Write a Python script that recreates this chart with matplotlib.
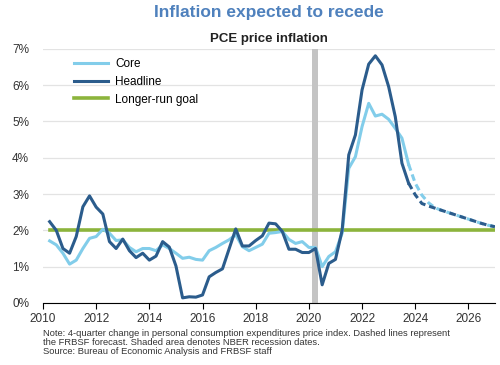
import matplotlib.pyplot as plt
import numpy as np

plt.rcParams['font.family'] = ['Liberation Sans', 'DejaVu Sans']

# quarterly history, plotted from 2010.25 to 2023.75
hist_start = 2010.25
core = [1.71, 1.60, 1.37, 1.07, 1.18, 1.50, 1.78, 1.83, 2.03, 1.92, 1.72, 1.74,
        1.53, 1.41, 1.50, 1.50, 1.44, 1.60, 1.50, 1.37, 1.23, 1.26, 1.20, 1.18,
        1.44, 1.53, 1.64, 1.74, 1.88, 1.55, 1.44, 1.53, 1.62, 1.92,
        1.94, 1.97, 1.75, 1.64, 1.69, 1.53, 1.53, 1.00, 1.28, 1.41, 1.92,
        3.71, 4.03, 4.86, 5.50, 5.15, 5.20, 5.06, 4.81, 4.54, 3.82]
headline = [2.24, 2.00, 1.50, 1.37, 1.83, 2.65, 2.95, 2.64, 2.45, 1.69, 1.50, 1.76,
            1.44, 1.25, 1.37, 1.18, 1.29, 1.69, 1.54, 1.02, 0.14, 0.17, 0.16, 0.22,
            0.72, 0.84, 0.94, 1.49, 2.04, 1.57, 1.57, 1.72, 1.85, 2.20,
            2.18, 1.97, 1.48, 1.48, 1.39, 1.39, 1.50, 0.50, 1.09, 1.20, 2.00,
            4.08, 4.63, 5.87, 6.58, 6.81, 6.56, 5.96, 5.13, 3.85, 3.30]

# FRBSF forecast, 2024Q1 .. 2026Q4
fc_start = 2024.0
core_fc = [3.30, 2.97, 2.76, 2.62, 2.55, 2.49, 2.43, 2.37, 2.31, 2.25, 2.19, 2.14, 2.10]
headline_fc = [2.98, 2.74, 2.67, 2.61, 2.55, 2.49, 2.43, 2.37, 2.31, 2.25, 2.19, 2.14, 2.10]

goal = 2.0
recession = (2020.13, 2020.33)

c_core = '#82cdea'
c_head = '#2b5c8c'
c_goal = '#8cb43c'

t_hist = hist_start + 0.25 * np.arange(len(core))
t_fc = fc_start + 0.25 * np.arange(len(core_fc))

fig = plt.figure(figsize=(5, 3.65), dpi=100)
ax = fig.add_axes([0.086, 0.170, 0.904, 0.696])

ax.axvspan(*recession, color='#c4c4c4', zorder=1, lw=0)
ax.plot([t_hist[0], 2027], [goal, goal], color=c_goal, lw=2.6, zorder=2, label='Longer-run goal')

ax.plot(t_hist, core, color=c_core, lw=2.2, zorder=3, label='Core')
ax.plot(np.r_[t_hist[-1], t_fc], np.r_[core[-1], core_fc], color=c_core, lw=2.2,
        ls=(0, (2.2, 1.3)), zorder=3)
ax.plot(t_hist, headline, color=c_head, lw=2.2, zorder=4, label='Headline')
ax.plot(np.r_[t_hist[-1], t_fc], np.r_[headline[-1], headline_fc], color=c_head, lw=2.2,
        ls=(0, (2.2, 1.3)), zorder=4)

ax.set_xlim(2010, 2027)
ax.set_ylim(0, 7)
ax.set_xticks(range(2010, 2027, 2))
ax.set_yticks(range(0, 8))
ax.set_yticklabels([f'{v}%' for v in range(0, 8)])
ax.yaxis.grid(True, color='#e3e3e3', lw=0.9)
ax.set_axisbelow(True)
for s in ['top', 'right', 'left']:
    ax.spines[s].set_visible(False)
ax.spines['bottom'].set_color('black')
ax.tick_params(axis='y', length=0, labelsize=8.5, colors='#333333', pad=10)
ax.tick_params(axis='x', direction='out', length=4, color='black', labelsize=8.5,
               labelcolor='#333333', pad=3)

h, l = ax.get_legend_handles_labels()
order = [1, 2, 0]
ax.legend([h[i] for i in order], [l[i] for i in order], loc='upper left',
          bbox_to_anchor=(0.045, 1.005), frameon=False, fontsize=8.5, handlelength=2.9,
          labelspacing=0.48, handletextpad=0.6)

fig.text(0.538, 0.967, 'Inflation expected to recede', ha='center', va='center',
         fontsize=12.5, fontweight='bold', color='#4f81bd')
fig.text(0.538, 0.893, 'PCE price inflation', ha='center', va='center',
         fontsize=9.5, fontweight='bold', color='#222222')
fig.text(0.086, 0.062,
         'Note: 4-quarter change in personal consumption expenditures price index. Dashed lines represent\n'
         'the FRBSF forecast. Shaded area denotes NBER recession dates.\n'
         'Source: Bureau of Economic Analysis and FRBSF staff',
         ha='left', va='center', fontsize=6.75, color='#333333', linespacing=1.05)

fig.savefig('out.png', dpi=100)
